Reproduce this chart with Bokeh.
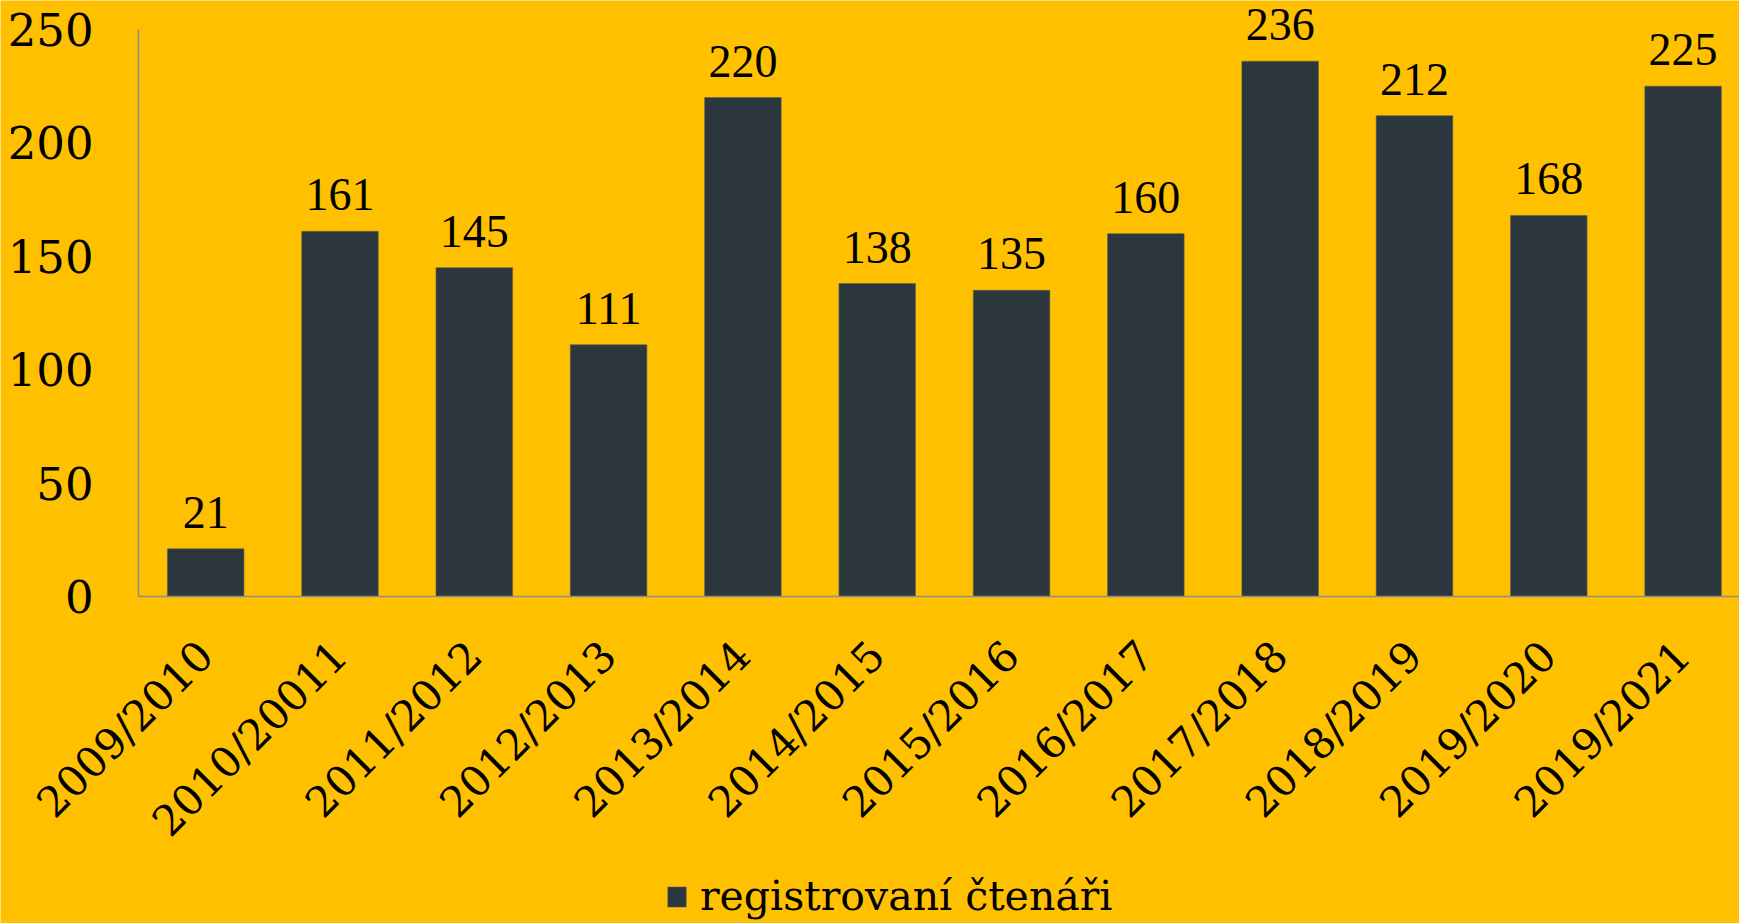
import math
from bokeh.plotting import figure
from bokeh.models import (ColumnDataSource, Range1d, FixedTicker, LabelSet,
                          Legend, LegendItem)
from bokeh.embed import file_html
from bokeh.resources import INLINE

# ---- data ----
seasons = ["2009/2010", "2010/20011", "2011/2012", "2012/2013", "2013/2014",
           "2014/2015", "2015/2016", "2016/2017", "2017/2018", "2018/2019",
           "2019/2020", "2019/2021"]
readers = [21, 161, 145, 111, 220, 138, 135, 160, 236, 212, 168, 225]
series_name = "registrovaní čtenáři"
y_ticks = [0, 50, 100, 150, 200, 250]

BG = "#FFC000"
BAR = "#2C363D"
AXIS = "#8C8C8C"
FONT = "DejaVu Serif"

idx = list(range(len(seasons)))
src = ColumnDataSource(dict(x=idx, y=readers, lab=[str(v) for v in readers]))

X0, X1 = -1.5276, 11.42
p = figure(width=1739, height=923, output_backend="svg", toolbar_location=None,
           x_range=Range1d(X0, X1), y_range=Range1d(-144.2, 262.8),
           min_border_left=0, min_border_top=0, min_border_bottom=0,
           min_border_right=0)
p.background_fill_color = BG
p.border_fill_color = BG
p.outline_line_color = None
p.grid.visible = False

r = p.vbar(x="x", top="y", width=0.57, source=src, fill_color=BAR,
           line_color="#5a5f5f", line_width=0.6)

labels = LabelSet(x="x", y="y", text="lab", source=src, text_align="center",
                  text_baseline="alphabetic", y_offset=21,
                  text_font=FONT, text_font_size="46px", text_color="black")
p.add_layout(labels)

# axes
p.xaxis.fixed_location = 0
p.xaxis.bounds = (-0.5, X1)
p.xaxis.ticker = FixedTicker(ticks=idx)
p.xaxis.major_label_overrides = {i: s for i, s in zip(idx, seasons)}
p.xaxis.major_label_orientation = math.pi / 4
p.xaxis.major_label_text_font = FONT
p.xaxis.major_label_text_font_size = "42px"
p.xaxis.major_label_text_color = "black"
p.xaxis.major_label_standoff = 52
p.xaxis.major_tick_line_color = None
p.xaxis.major_tick_in = 0
p.xaxis.major_tick_out = 0
p.xaxis.minor_tick_line_color = None
p.xaxis.axis_line_color = AXIS
p.xaxis.axis_line_width = 1.6

p.yaxis.fixed_location = -0.5
p.yaxis.ticker = FixedTicker(ticks=y_ticks)
p.yaxis.bounds = (0, 250)
p.yaxis.major_label_text_font = FONT
p.yaxis.major_label_text_font_size = "45px"
p.yaxis.major_label_text_color = "black"
p.yaxis.major_label_standoff = 45
p.yaxis.major_tick_line_color = None
p.yaxis.major_tick_in = 0
p.yaxis.major_tick_out = 0
p.yaxis.minor_tick_line_color = None
p.yaxis.axis_line_color = AXIS
p.yaxis.axis_line_width = 1.6

legend = Legend(items=[LegendItem(label=series_name, renderers=[r])],
                location=(665, 3), orientation="horizontal",
                padding=0, margin=0, spacing=0,
                glyph_width=23, glyph_height=25, label_standoff=12,
                label_text_font=FONT, label_text_font_size="41px",
                label_text_color="black",
                background_fill_alpha=0, border_line_color=None)
p.add_layout(legend, "center")

html = file_html(p, INLINE)
html = html.replace("<body>", '<body style="background-color:#FFC000;">', 1)
open("out.html", "w").write(html)
